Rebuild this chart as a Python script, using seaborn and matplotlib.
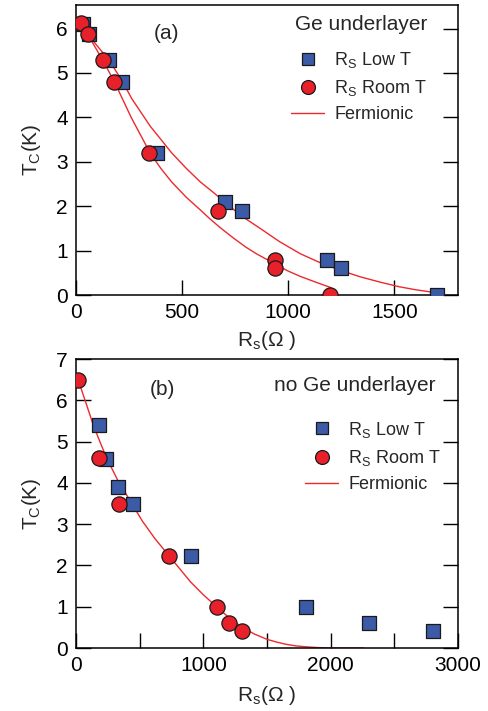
import numpy as np
import pandas as pd
import seaborn as sns
import matplotlib
matplotlib.use("Agg")
import matplotlib.pyplot as plt
from matplotlib.lines import Line2D

# ---------------- data ----------------
# panel (a): Ge underlayer
a_low_x = [35, 63, 155, 215, 383, 702, 782, 1181, 1249, 1700]
a_low_y = [6.10, 5.88, 5.30, 4.80, 3.20, 2.10, 1.90, 0.80, 0.60, 0.00]
a_room_x = [22, 55, 127, 181, 346, 671, 939, 939, 1198]
a_room_y = [6.12, 5.87, 5.30, 4.80, 3.20, 1.90, 0.80, 0.60, 0.00]
a_fit_low_x = [55, 157, 220, 263, 350, 451, 520, 585, 650, 703, 780, 868, 960, 1057,
               1150, 1250, 1340, 1434, 1520, 1600, 1700]
a_fit_low_y = [5.87, 5.28, 4.80, 4.42, 3.80, 3.20, 2.85, 2.55, 2.30, 2.08, 1.78, 1.50,
               1.20, 0.93, 0.73, 0.55, 0.41, 0.29, 0.19, 0.12, 0.05]
a_fit_room_x = [55, 127, 181, 260, 349, 400, 450, 520, 585, 630, 679, 740, 800, 850,
                900, 943, 1000, 1057, 1130, 1200]
a_fit_room_y = [5.87, 5.28, 4.80, 4.00, 3.20, 2.85, 2.55, 2.20, 1.92, 1.72, 1.52, 1.29,
                1.08, 0.93, 0.80, 0.68, 0.54, 0.42, 0.29, 0.17]

# panel (b): no Ge underlayer
b_low_x = [183, 236, 330, 451, 904, 1803, 2304, 2805]
b_low_y = [5.40, 4.58, 3.90, 3.50, 2.24, 1.00, 0.60, 0.42]
b_room_x = [18, 183, 335, 734, 1104, 1200, 1305]
b_room_y = [6.49, 4.60, 3.49, 2.24, 1.00, 0.60, 0.42]
b_fit_x = [18, 80, 136, 190, 241, 330, 425, 520, 620, 734, 820, 900, 1000, 1104, 1200,
           1305, 1400, 1500, 1580, 1650, 1730, 1800, 1900, 2000, 2260]
b_fit_y = [6.49, 5.92, 5.40, 4.98, 4.60, 4.05, 3.57, 3.08, 2.65, 2.22, 1.90, 1.60,
           1.29, 1.00, 0.74, 0.50, 0.34, 0.21, 0.14, 0.09, 0.05, 0.03, 0.01, 0.00, 0.00]

a_xticks = [0, 500, 1000, 1500]
a_yticks = [0, 1, 2, 3, 4, 5, 6]
b_xticks = [0, 1000, 2000, 3000]
b_xminor = [500, 1500, 2500]
b_yticks = [0, 1, 2, 3, 4, 5, 6, 7]

lbl_low = r"R$_\mathrm{S}$ Low T"
lbl_room = r"R$_\mathrm{S}$ Room T"
lbl_fit = "Fermionic"
xlabel = r"R$_\mathrm{s}$(Ω )"
ylabel = r"T$_\mathrm{C}$(K)"

# ---------------- style ----------------
sns.set_style("ticks")
plt.rcParams["font.family"] = ["Liberation Sans", "DejaVu Sans"]
plt.rcParams["mathtext.fontset"] = "custom"
plt.rcParams["mathtext.rm"] = "Liberation Sans"
plt.rcParams["mathtext.it"] = "Liberation Sans:italic"
plt.rcParams["mathtext.bf"] = "Liberation Sans:bold"

BLUE = "#3b5ba7"
RED = "#e8202a"
LINE = "#ec2a2e"
EDGE = "#1a1a1a"
FS = 15
LFS = 13

fig = plt.figure(figsize=(4.89, 7.11), dpi=100)
ax1 = fig.add_axes([0.1554, 0.585, 0.7812, 0.408])
ax2 = fig.add_axes([0.1554, 0.0886, 0.7812, 0.4064])


def draw(ax, low_x, low_y, room_x, room_y, fits):
    for fx, fy in fits:
        sns.lineplot(x=fx, y=fy, ax=ax, color=LINE, lw=1.0, sort=False,
                     estimator=None, zorder=2)
    sns.scatterplot(x=low_x, y=low_y, ax=ax, marker="s", s=88, color=BLUE,
                    edgecolor=EDGE, linewidth=0.9, zorder=3)
    sns.scatterplot(x=room_x, y=room_y, ax=ax, marker="o", s=120, color=RED,
                    edgecolor=EDGE, linewidth=0.9, zorder=4)


def style(ax, xpad):
    for sp in ax.spines.values():
        sp.set_visible(True)
        sp.set_linewidth(1.1)
        sp.set_color("black")
    ax.tick_params(which="both", direction="in", length=11, width=1.0,
                   left=True, right=True, top=False, bottom=True,
                   labelsize=FS, pad=6, colors="black")
    ax.set_xlabel(xlabel, fontsize=FS, labelpad=xpad)
    ax.set_ylabel(ylabel, fontsize=FS, labelpad=9)


draw(ax1, a_low_x, a_low_y, a_room_x, a_room_y,
     [(a_fit_low_x, a_fit_low_y), (a_fit_room_x, a_fit_room_y)])
ax1.set_xlim(0, 1800)
ax1.set_ylim(0, 6.53)
ax1.set_xticks(a_xticks)
ax1.set_yticks(a_yticks)
style(ax1, 5)

draw(ax2, b_low_x, b_low_y, b_room_x, b_room_y, [(b_fit_x, b_fit_y)])
ax2.set_xlim(0, 3000)
ax2.set_ylim(0, 7)
ax2.set_xticks(b_xticks)
ax2.set_xticks(b_xminor, minor=True)
ax2.set_yticks(b_yticks)
style(ax2, 6)

handles = [
    Line2D([], [], marker="s", ls="", markersize=9, markerfacecolor=BLUE,
           markeredgecolor=EDGE, markeredgewidth=0.9),
    Line2D([], [], marker="o", ls="", markersize=10, markerfacecolor=RED,
           markeredgecolor=EDGE, markeredgewidth=0.9),
    Line2D([], [], color=LINE, lw=1.0),
]
labels = [lbl_low, lbl_room, lbl_fit]

for ax, anchor in ((ax1, (0.563, 0.845)), (ax2, (0.599, 0.79))):
    ax.legend(handles, labels, loc="upper left", bbox_to_anchor=anchor,
              frameon=False, fontsize=LFS, handlelength=1.85,
              handletextpad=0.55, labelspacing=0.45, borderpad=0.0,
              borderaxespad=0.0)

ax1.text(0.921, 0.931, "Ge underlayer", transform=ax1.transAxes,
         fontsize=FS, ha="right", va="center")
ax1.text(0.236, 0.903, "(a)", transform=ax1.transAxes, fontsize=FS,
         ha="center", va="center")
ax2.text(0.942, 0.91, "no Ge underlayer", transform=ax2.transAxes,
         fontsize=FS, ha="right", va="center")
ax2.text(0.225, 0.893, "(b)", transform=ax2.transAxes, fontsize=FS,
         ha="center", va="center")

fig.savefig("out.png", dpi=100)
